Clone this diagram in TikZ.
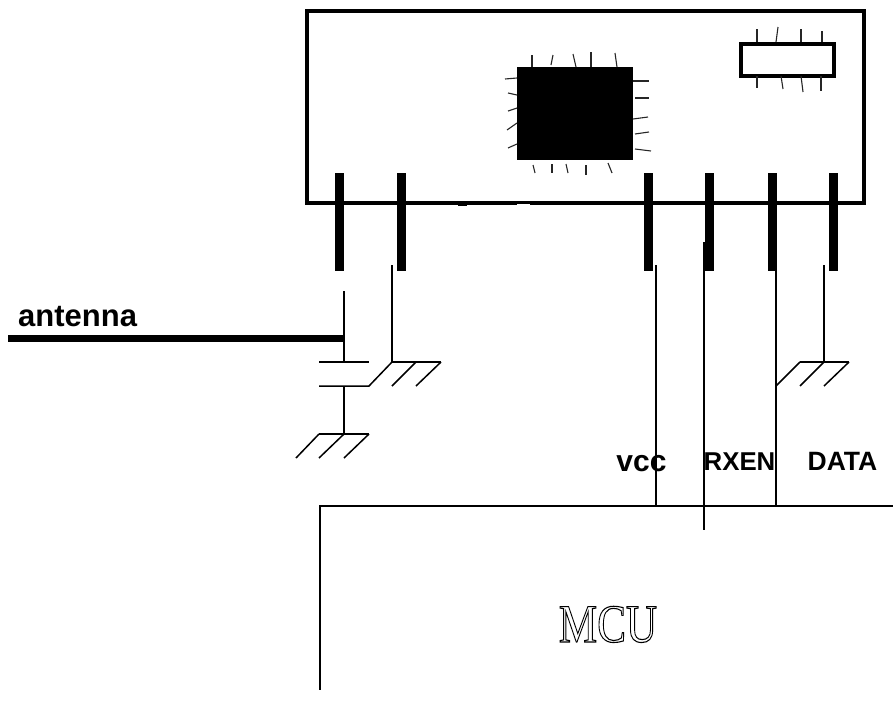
\documentclass[tikz,border=0pt]{standalone}
\usepackage{fontspec}
\setmainfont{Liberation Sans}
\newfontfamily\serifcu{Liberation Serif}
\tikzset{
  wire/.style={line width=1.5pt,black},
  pin/.style={line width=9pt,black},
  frame/.style={line width=4pt,black,line join=miter},
  tick/.style={line width=1.1pt,black!85},
  lab/.style={font=\bfseries,inner sep=0pt,anchor=base}
}
\newcommand{\outl}[1]{\special{pdf:code q 1 Tr 1.1 w}#1\special{pdf:code 0 Tr Q}}
\begin{document}
\begin{tikzpicture}[x=1pt,y=-1pt]
\useasboundingbox (0,0) rectangle (893,718);
% module
\draw[frame] (306.5,10.5) rectangle (864,203);
\fill[black] (517,67) rectangle (633,160);
\draw[frame] (740.7,43.5) rectangle (834,76);
\fill[black] (458,201) rectangle (467,206);
\fill[white] (517,204) rectangle (530,205.5);
\fill[black] (520,200.5) rectangle (529,202);
% chip ticks
\foreach \a/\b/\c/\d in {532/67/532/55, 551/65/553/55, 576/67/573/54, 591/67/591/52, 617/67/615/53,
 533/165/535/173, 552/164/552/173, 566/164/568/173, 586/165/586/175, 608/163/612/173,
 517/78/505/79, 517/95/508/93, 517/108/508/111, 517/123/507/130, 517/144/508/148,
 633/81/649/81, 635/98/649/98, 633/119/648/117, 635/134/649/132, 635/149/651/151,
 757/42/757/29, 776/42/778/27, 801/42/801/29, 822/42/822/31,
 757/76/757/88, 781/76/783/89, 801/76/803/92, 821/76/821/91}
  \draw[tick] (\a,\b) -- (\c,\d);
% pins
\foreach \x in {339,401,648,709.5,772,833}
  \draw[pin] (\x,173) -- (\x,270.5);
% antenna and capacitor
\coordinate (ant) at (8,338);
\coordinate (antj) at (344,338);
\draw[line width=7pt] (ant) -- (antj);
\draw[wire] (344,291) -- (344,362);
\draw[wire] (319,362) -- (369,362);
\draw[wire] (319,386) -- (369,386) -- (392,362);
\draw[wire] (392,265) -- (392,362) -- (441,362);
\draw[wire] (416,362) -- (392,386);
\draw[wire] (441,362) -- (416,386);
\draw[wire] (344,386) -- (344,434);
\draw[wire] (319,434) -- (369,434);
\draw[wire] (319,434) -- (296,458);
\draw[wire] (344,434) -- (319,458);
\draw[wire] (369,434) -- (344,458);
% signals
\draw[wire] (656,265) -- (656,506);
\draw[wire] (704,242) -- (704,530);
\draw[wire] (776,242) -- (776,506);
\draw[wire] (824,265) -- (824,362);
\draw[wire] (800,362) -- (849,362);
\draw[wire] (800,362) -- (776,386);
\draw[wire] (824,362) -- (800,386);
\draw[wire] (849,362) -- (824,386);
% MCU
\draw[wire] (893,506) -- (320,506) -- (320,690);
% labels
\node[lab,font=\bfseries\fontsize{31}{31}\selectfont,anchor=base west] (antlab) at (18,326.5) {antenna};
\node[lab,font=\bfseries\fontsize{30}{30}\selectfont] (vcc) at (641.5,471) {vcc};
\node[lab,font=\bfseries\fontsize{25.8}{25.8}\selectfont] (rxen) at (739.5,470.5) {RXEN};
\node[lab,font=\bfseries\fontsize{26.5}{26.5}\selectfont] (data) at (842.5,470.5) {DATA};
\node[inner sep=0pt,anchor=base,xscale=0.8,transform shape,font=\serifcu\fontsize{54}{54}\selectfont] (mcu) at (608,642) {\outl{MCU}};
\end{tikzpicture}
\end{document}
